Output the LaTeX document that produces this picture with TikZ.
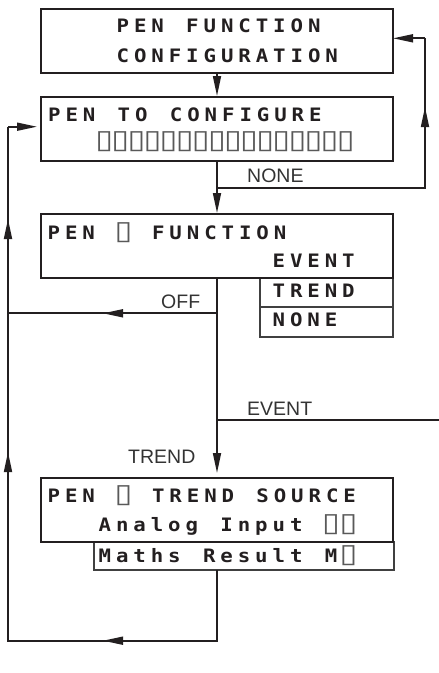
\documentclass[tikz,border=0pt]{standalone}
\usepackage{fontspec}
\usepackage{graphicx}
\usetikzlibrary{arrows.meta}
\setmainfont{Liberation Sans}
\newfontfamily\dispfont[FakeStretch=1.12]{DejaVu Sans Mono}
\newfontfamily\symfont{DejaVu Sans}
\newlength\dpitch
\setlength\dpitch{17.4pt}
\def\dispchars#1{\dispx#1\relax}
\def\dispx#1{\ifx#1\relax\else\makebox[\dpitch][c]{#1}\expandafter\dispx\fi}
\newcommand\phbox{{\symfont\mdseries\color{black!65}\scalebox{1.75}[1.42]{▯}}}
\definecolor{ink}{HTML}{231F20}
\tikzset{
  mainbox/.style={draw=ink, line width=2pt, minimum width=352pt, inner sep=0pt},
  subbox/.style={draw=black!75, line width=1.1pt, inner sep=0pt},
  disp/.style={anchor=base west, inner sep=0pt, text=ink,
    font=\dispfont\bfseries\fontsize{18.5pt}{20pt}\selectfont},
  lbl/.style={anchor=base west, inner sep=0pt, text=black!80,
    font=\fontsize{19.5pt}{22pt}\selectfont},
  wire/.style={draw=ink, line width=1.7pt},
  arr/.style={draw=ink, line width=1.7pt, -{Triangle[length=20pt,width=8pt]}},
}
\begin{document}
\begin{tikzpicture}[x=1pt,y=-1pt]
\useasboundingbox (0,0) rectangle (439,673);
% sub boxes
\node[subbox, minimum width=133pt, minimum height=29pt] (trd) at (326.5,292.5) {};
\node[subbox, minimum width=133pt, minimum height=30pt] (non) at (326.5,322) {};
\node[subbox, minimum width=300pt, minimum height=28pt] (mth) at (244,556) {};
% main boxes
\node[mainbox, minimum height=64pt] (b1) at (217,41) {};
\node[mainbox, minimum height=64pt] (b2) at (217,129) {};
\node[mainbox, minimum height=64pt] (b3) at (217,246) {};
\node[mainbox, minimum height=64pt] (b4) at (217,510) {};
% display texts
\node[disp] (t1a) at (114,32.7) {\dispchars{PEN~FUNCTION}};
\node[disp] (t1b) at (114,62.7) {\dispchars{CONFIGURATION}};
\node[disp] (t2a) at (45.5,121.3) {\dispchars{PEN~TO~CONFIGURE}};
\node[disp] (t2b) at (96,148) {\setlength\dpitch{16.1pt}\dispchars{\phbox\phbox\phbox\phbox\phbox\phbox\phbox\phbox\phbox\phbox\phbox\phbox\phbox\phbox\phbox\phbox}};
\node[disp] (t3a) at (45,239) {\dispchars{PEN~\phbox~FUNCTION}};
\node[disp] (t3b) at (270,267) {\dispchars{EVENT}};
\node[disp] (t3c) at (270,297) {\dispchars{TREND}};
\node[disp] (t3d) at (270,326) {\dispchars{NONE}};
\node[disp] (t4a) at (45,502) {\dispchars{PEN~\phbox~TREND~SOURCE}};
\node[disp] (t4b) at (96,531) {\dispchars{Analog~Input~\phbox\phbox}};
\node[disp] (t4c) at (96,562) {\dispchars{Maths~Result~M\phbox}};
% labels
\node[lbl] (lnone) at (247,182.7) {NONE};
\node[lbl] (loff) at (161,308) {OFF};
\node[lbl] (levent) at (247,415) {EVENT};
\node[lbl] (ltrend) at (128,463) {TREND};
% coordinates
\coordinate (jn) at (217,187.7);
\coordinate (rb) at (425,187.7);
\coordinate (rt) at (425,38.3);
\coordinate (b1in) at (393,38.3);
\coordinate (ua1) at (425,127);
\coordinate (ua2) at (425,107);
\coordinate (joff) at (217,313.3);
\coordinate (lo) at (8,313.3);
\coordinate (oa1) at (124,313.3);
\coordinate (oa2) at (103,313.3);
\coordinate (jev) at (217,420);
\coordinate (ev) at (439,420);
\coordinate (ms) at (217,570);
\coordinate (mb) at (217,640.7);
\coordinate (lb) at (8,640.7);
\coordinate (lt) at (8,126.7);
\coordinate (b2in) at (41,126.7);
\coordinate (ba1) at (124,640.7);
\coordinate (ba2) at (103,640.7);
\coordinate (la1) at (8,237);
\coordinate (la2) at (8,219);
\coordinate (lc1) at (8,470);
\coordinate (lc2) at (8,452);
% connectors
\draw[arr] (b1.south) -- (b2.north);
\draw[arr] (b2.south) -- (b3.north);
\draw[wire] (jn) -- (rb) -- (rt);
\draw[arr] (rt) -- (b1in);
\draw[arr] (ua1) -- (ua2);
\draw[arr, shorten >=4pt] (b3.south) -- (b4.north);
\draw[wire] (joff) -- (lo);
\draw[arr] (oa1) -- (oa2);
\draw[wire] (jev) -- (ev);
\draw[wire] (ms) -- (mb) -- (lb) -- (lt);
\draw[arr, shorten >=4pt] (lt) -- (b2in);
\draw[arr] (ba1) -- (ba2);
\draw[arr] (la1) -- (la2);
\draw[arr] (lc1) -- (lc2);
\end{tikzpicture}
\end{document}
